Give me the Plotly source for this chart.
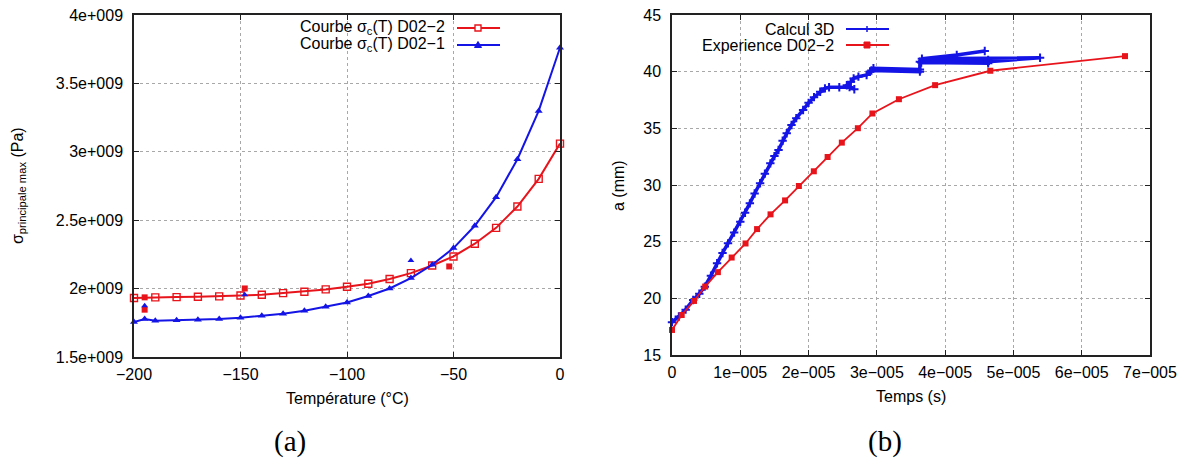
import plotly.graph_objects as go

W, H = 1185, 468

# ---------------- data: chart (a) ----------------
temp_d022 = [-200, -190, -180, -170, -160, -150, -140, -130, -120, -110, -100,
             -90, -80, -70, -60, -50, -40, -30, -20, -10, 0]
sigma_d022 = [1.931, 1.936, 1.938, 1.940, 1.943, 1.950, 1.955, 1.967, 1.977, 1.994, 2.014,
              2.036, 2.070, 2.113, 2.169, 2.235, 2.328, 2.444, 2.600, 2.802, 3.060]

temp_d021 = [-200, -195, -190, -180, -170, -160, -150, -140, -130, -120, -110, -100,
             -90, -80, -70, -60, -50, -40, -30, -20, -10, 0]
sigma_d021 = [1.756, 1.778, 1.765, 1.768, 1.773, 1.778, 1.787, 1.802, 1.816, 1.838, 1.868, 1.899,
              1.946, 2.001, 2.077, 2.174, 2.296, 2.459, 2.668, 2.946, 3.299, 3.761]

temp_exp_red = [-195, -195, -148, -52]
sigma_exp_red = [1.936, 1.846, 2.001, 2.162]
temp_exp_blue = [-195, -148, -70]
sigma_exp_blue = [1.875, 1.955, 2.206]

temp_ticks = [-200, -150, -100, -50, 0]
sigma_ticks = [1.5, 2.0, 2.5, 3.0, 3.5, 4.0]
sigma_ticktext = ["1.5e+009", "2e+009", "2.5e+009", "3e+009", "3.5e+009", "4e+009"]

# ---------------- data: chart (b) ----------------
# time in units of 1e-5 s, crack length a in mm
time_calc = [0.00, 0.10, 0.20, 0.31, 0.40, 0.48, 0.57, 0.66, 0.74, 0.82, 0.91, 1.00,
             1.07, 1.14, 1.21, 1.29, 1.36, 1.44, 1.50, 1.56, 1.62, 1.68, 1.75, 1.82,
             1.92, 2.00, 2.08, 2.17, 2.24, 2.30, 2.45, 2.60, 2.67, 2.56, 2.62, 2.66,
             2.73, 2.85, 2.90, 2.95, 3.63, 2.92, 3.63, 3.63, 4.63, 3.65, 4.63, 4.63,
             5.39, 3.66, 4.17, 4.58]
a_calc = [17.90, 18.40, 19.00, 19.85, 20.40, 21.03, 22.00, 23.09, 24.00, 24.85, 25.80, 26.76,
          27.55, 28.38, 29.25, 30.15, 31.00, 31.91, 32.55, 33.09, 33.90, 34.56, 35.30, 35.90,
          36.62, 37.25, 37.75, 38.23, 38.53, 38.62, 38.62, 38.65, 38.45, 38.80, 39.10, 39.40,
          39.56, 39.71, 40.00, 40.30, 40.20, 40.10, 40.00, 40.88, 41.03, 40.80, 40.74, 40.88,
          41.23, 41.15, 41.47, 41.82]

time_exp = [0.000, 0.142, 0.322, 0.486, 0.672, 0.874, 1.077, 1.246, 1.443, 1.656, 1.858,
            2.077, 2.279, 2.487, 2.722, 2.935, 3.323, 3.853, 4.661, 6.634]
a_exp = [17.21, 18.53, 19.77, 21.04, 22.31, 23.60, 24.84, 26.11, 27.41, 28.64, 29.91,
         31.21, 32.47, 33.74, 35.01, 36.31, 37.57, 38.81, 40.08, 41.37]

time_ticks = [0, 1, 2, 3, 4, 5, 6, 7]
time_ticktext = ["0", "1e\u2212005", "2e\u2212005", "3e\u2212005", "4e\u2212005",
                 "5e\u2212005", "6e\u2212005", "7e\u2212005"]
a_ticks = [15, 20, 25, 30, 35, 40, 45]

RED = "#e8141c"
BLUE = "#1414e6"
FONT = "Liberation Sans"

fig = go.Figure()

# chart (a)
fig.add_trace(go.Scatter(x=temp_d022, y=[v * 1e9 for v in sigma_d022], mode="lines+markers",
                         line=dict(color=RED, width=2),
                         marker=dict(symbol="square-open", size=7, color=RED, line=dict(width=1.4)),
                         cliponaxis=False, showlegend=False, xaxis="x", yaxis="y"))
fig.add_trace(go.Scatter(x=temp_d021, y=[v * 1e9 for v in sigma_d021], mode="lines+markers",
                         line=dict(color=BLUE, width=2),
                         marker=dict(symbol="triangle-up", size=7, color=BLUE),
                         cliponaxis=False, showlegend=False, xaxis="x", yaxis="y"))
fig.add_trace(go.Scatter(x=temp_exp_red, y=[v * 1e9 for v in sigma_exp_red], mode="markers",
                         marker=dict(symbol="square", size=6, color=RED),
                         showlegend=False, xaxis="x", yaxis="y"))
fig.add_trace(go.Scatter(x=temp_exp_blue, y=[v * 1e9 for v in sigma_exp_blue], mode="markers",
                         marker=dict(symbol="triangle-up", size=6, color=BLUE),
                         showlegend=False, xaxis="x", yaxis="y"))

# chart (b)
fig.add_trace(go.Scatter(x=[v * 1e-5 for v in time_calc], y=a_calc, mode="lines+markers",
                         line=dict(color=BLUE, width=3.5),
                         marker=dict(symbol="cross-thin", size=6, color=BLUE,
                                     line=dict(color=BLUE, width=2)),
                         cliponaxis=False, showlegend=False, xaxis="x2", yaxis="y2"))
fig.add_trace(go.Scatter(x=[v * 1e-5 for v in time_exp], y=a_exp, mode="lines+markers",
                         line=dict(color=RED, width=1.8),
                         marker=dict(symbol="square", size=6, color=RED),
                         cliponaxis=False, showlegend=False, xaxis="x2", yaxis="y2"))


def fx(x):
    return x / W


def fy(y):
    return 1 - y / H


axis_common = dict(showline=True, linecolor="#222222", linewidth=1.5, mirror="allticks",
                   ticks="inside", ticklen=5, tickwidth=1, tickcolor="#222222",
                   showgrid=True, gridcolor="#a8a8a8", griddash="dot", gridwidth=1,
                   zeroline=False, tickfont=dict(family=FONT, size=16, color="black"),
                   automargin=False)

fig.update_layout(
    width=W, height=H, margin=dict(l=0, r=0, t=0, b=0, pad=0, autoexpand=False),
    paper_bgcolor="white", plot_bgcolor="white",
    font=dict(family=FONT, size=16, color="black"),
    xaxis=dict(domain=[fx(134), fx(560)], range=[-200, 0], tickvals=temp_ticks,
               anchor="y", ticklabelstandoff=2, **axis_common),
    yaxis=dict(domain=[fy(357), fy(15)], range=[1.5e9, 4e9],
               tickvals=[v * 1e9 for v in sigma_ticks], ticktext=sigma_ticktext,
               anchor="x", ticklabelstandoff=6, **axis_common),
    xaxis2=dict(domain=[fx(672), fx(1150)], range=[0, 7e-5],
                tickvals=[v * 1e-5 for v in time_ticks], ticktext=time_ticktext,
                anchor="y2", ticklabelstandoff=2, **axis_common),
    yaxis2=dict(domain=[fy(355), fy(15)], range=[15, 45], tickvals=a_ticks,
                anchor="x2", ticklabelstandoff=6, **axis_common),
)


def label(x, y, text, size=16, family=FONT, xanchor="center", angle=0):
    return dict(x=fx(x), y=fy(y), text=text, showarrow=False, xref="paper", yref="paper",
                xanchor=xanchor, yanchor="middle", textangle=angle,
                font=dict(family=family, size=size, color="black"))


ann = []
# axis titles
ann.append(label(347, 398, "Température (°C)"))
ann.append(label(19, 186, "σ<sub>principale max</sub> (Pa)", angle=-90))
ann.append(label(911, 396, "Temps (s)"))
ann.append(label(619, 186, "a (mm)", angle=-90))
# panel labels
ann.append(label(290, 441, "(a)", size=29, family="Liberation Serif"))
ann.append(label(885, 441, "(b)", size=29, family="Liberation Serif"))

# legends (gnuplot style: text then sample)
leg_a = [("Courbe σ<sub>c</sub>(T) D02\u22122", 27), ("Courbe σ<sub>c</sub>(T) D02\u22121", 44)]
for txt, yy in leg_a:
    ann.append(label(447, yy, txt, xanchor="right"))
leg_b = [("Calcul 3D", 29), ("Experience D02\u22122", 46)]
for txt, yy in leg_b:
    ann.append(label(836, yy, txt, xanchor="right"))
fig.update_layout(annotations=ann)

shapes = []
# legend (a) samples
shapes.append(dict(type="line", xref="paper", yref="paper", x0=fx(457), x1=fx(500),
                   y0=fy(28), y1=fy(28), line=dict(color=RED, width=2)))
shapes.append(dict(type="rect", xref="paper", yref="paper", x0=fx(475), x1=fx(481),
                   y0=fy(25), y1=fy(31), fillcolor="white", line=dict(color=RED, width=1.4)))
shapes.append(dict(type="line", xref="paper", yref="paper", x0=fx(457), x1=fx(500),
                   y0=fy(45), y1=fy(45), line=dict(color=BLUE, width=2)))
shapes.append(dict(type="path", xref="paper", yref="paper",
                   path="M {:.5f} {:.5f} L {:.5f} {:.5f} L {:.5f} {:.5f} Z".format(
                       fx(474.5), fy(47.5), fx(481.5), fy(47.5), fx(478), fy(41.5)),
                   fillcolor=BLUE, line=dict(color=BLUE, width=1)))
# legend (b) samples
shapes.append(dict(type="line", xref="paper", yref="paper", x0=fx(846), x1=fx(889),
                   y0=fy(29), y1=fy(29), line=dict(color=BLUE, width=2)))
shapes.append(dict(type="line", xref="paper", yref="paper", x0=fx(867), x1=fx(867),
                   y0=fy(26), y1=fy(32), line=dict(color=BLUE, width=1.5)))
shapes.append(dict(type="line", xref="paper", yref="paper", x0=fx(846), x1=fx(889),
                   y0=fy(45), y1=fy(45), line=dict(color=RED, width=2)))
shapes.append(dict(type="rect", xref="paper", yref="paper", x0=fx(864), x1=fx(870),
                   y0=fy(42), y1=fy(48), fillcolor=RED, line=dict(color=RED, width=1)))
fig.update_layout(shapes=shapes)

fig.write_html("out.html", config={"displayModeBar": False},
               post_script="document.body.style.margin='0';"
                           "document.body.style.overflow='hidden';")
